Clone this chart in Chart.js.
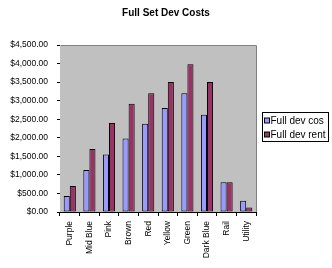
<!DOCTYPE html>
<html>
<head>
<meta charset="utf-8">
<script src="https://cdn.jsdelivr.net/npm/chart.js@4.4.0/dist/chart.umd.min.js"></script>
<style>
  html, body { margin: 0; padding: 0; background: #fff; }
  #wrap { width: 332px; height: 268px; }
</style>
</head>
<body>
<div id="wrap"><canvas id="chart" width="332" height="268"></canvas></div>
<script>
const categories = ["Purple", "Mid Blue", "Pink", "Brown", "Red", "Yellow", "Green", "Dark Blue", "Rail", "Utility"];
const devCost = [430, 1130, 1550, 1980, 2380, 2800, 3200, 2620, 800, 300];
const devRent = [700, 1700, 2400, 2920, 3200, 3500, 3980, 3500, 800, 120];
const seriesLabels = ["Full dev cos", "Full dev rent"];
const seriesColors = ["#9999FF", "#993366"];
const yMax = 4500;
const yStep = 500;

const font = "'Liberation Sans', Arial, sans-serif";

// grey plot background plus the grey top/right frame
const plotFrame = {
  id: "plotFrame",
  beforeDatasetsDraw: function (chart) {
    const a = chart.chartArea;
    const ctx = chart.ctx;
    ctx.save();
    ctx.fillStyle = "#C0C0C0";
    ctx.fillRect(a.left, a.top, a.right - a.left, a.bottom - a.top);
    ctx.restore();
  },
  afterDraw: function (chart) {
    const a = chart.chartArea;
    const ctx = chart.ctx;
    ctx.save();
    ctx.strokeStyle = "#808080";
    ctx.lineWidth = 1;
    ctx.beginPath();
    ctx.moveTo(a.left + 1, a.top + 0.5);
    ctx.lineTo(a.right + 0.5, a.top + 0.5);
    ctx.lineTo(a.right + 0.5, a.bottom);
    ctx.stroke();
    ctx.restore();
  },
};

// excel-style legend box on the right
const boxLegend = {
  id: "boxLegend",
  afterDraw: function (chart) {
    const ctx = chart.ctx;
    const left = 262.5, top = 112.5, width = 66, height = 29;
    ctx.save();
    ctx.fillStyle = "#fff";
    ctx.fillRect(left, top, width, height);
    ctx.strokeStyle = "#000";
    ctx.lineWidth = 1;
    ctx.strokeRect(left, top, width, height);
    ctx.font = "10px " + font;
    ctx.textBaseline = "middle";
    chart.data.datasets.forEach(function (ds, i) {
      const y = top + 8 + i * 14;
      ctx.fillStyle = ds.backgroundColor;
      ctx.fillRect(left + 2, y - 2.5, 5, 5);
      ctx.strokeStyle = "#000";
      ctx.strokeRect(left + 2, y - 2.5, 5, 5);
      ctx.fillStyle = "#000";
      ctx.fillText(ds.label, left + 8, y + 0.5);
    });
    ctx.restore();
  },
};

new Chart(document.getElementById("chart"), {
  type: "bar",
  data: {
    labels: categories,
    datasets: [
      {
        label: seriesLabels[0],
        data: devCost,
        backgroundColor: seriesColors[0],
        borderColor: "#000",
        borderWidth: 1,
        borderSkipped: false,
      },
      {
        label: seriesLabels[1],
        data: devRent,
        backgroundColor: seriesColors[1],
        borderColor: "#000",
        borderWidth: 1,
        borderSkipped: false,
      },
    ],
  },
  options: {
    responsive: false,
    animation: false,
    layout: {
      padding: 0,
    },
    datasets: {
      bar: {
        categoryPercentage: 0.62,
        barPercentage: 1.0,
      },
    },
    plugins: {
      legend: { display: false },
      tooltip: { enabled: false },
      title: {
        display: true,
        text: "Full Set Dev Costs",
        color: "#000",
        font: { family: font, size: 10, weight: "bold", lineHeight: 1.2 },
        padding: { top: 7, bottom: 26 },
      },
    },
    scales: {
      x: {
        grid: {
          offset: true,
          drawOnChartArea: false,
          color: "#000",
          tickLength: 4,
        },
        border: { color: "#000" },
        ticks: {
          color: "#000",
          font: { family: font, size: 8.5 },
          minRotation: 90,
          maxRotation: 90,
          autoSkip: false,
          padding: 5,
        },
        afterFit: function (scale) {
          scale.height = 56;
        },
      },
      y: {
        min: 0,
        max: yMax,
        grid: {
          color: "#000",
          tickColor: "#000",
          tickLength: 3,
        },
        border: { color: "#000" },
        ticks: {
          stepSize: yStep,
          color: "#000",
          font: { family: font, size: 8.5 },
          padding: 9,
          callback: function (value) {
            return "$" + value.toLocaleString("en-US", { minimumFractionDigits: 2, maximumFractionDigits: 2 });
          },
        },
        afterFit: function (scale) {
          scale.width = 60;
        },
      },
      // empty right-hand axis that only reserves room for the legend
      side: {
        type: "linear",
        position: "right",
        display: true,
        grid: { display: false },
        border: { display: false },
        ticks: { display: false },
        afterFit: function (scale) {
          scale.width = 76;
        },
      },
    },
  },
  plugins: [plotFrame, boxLegend],
});
</script>
</body>
</html>
